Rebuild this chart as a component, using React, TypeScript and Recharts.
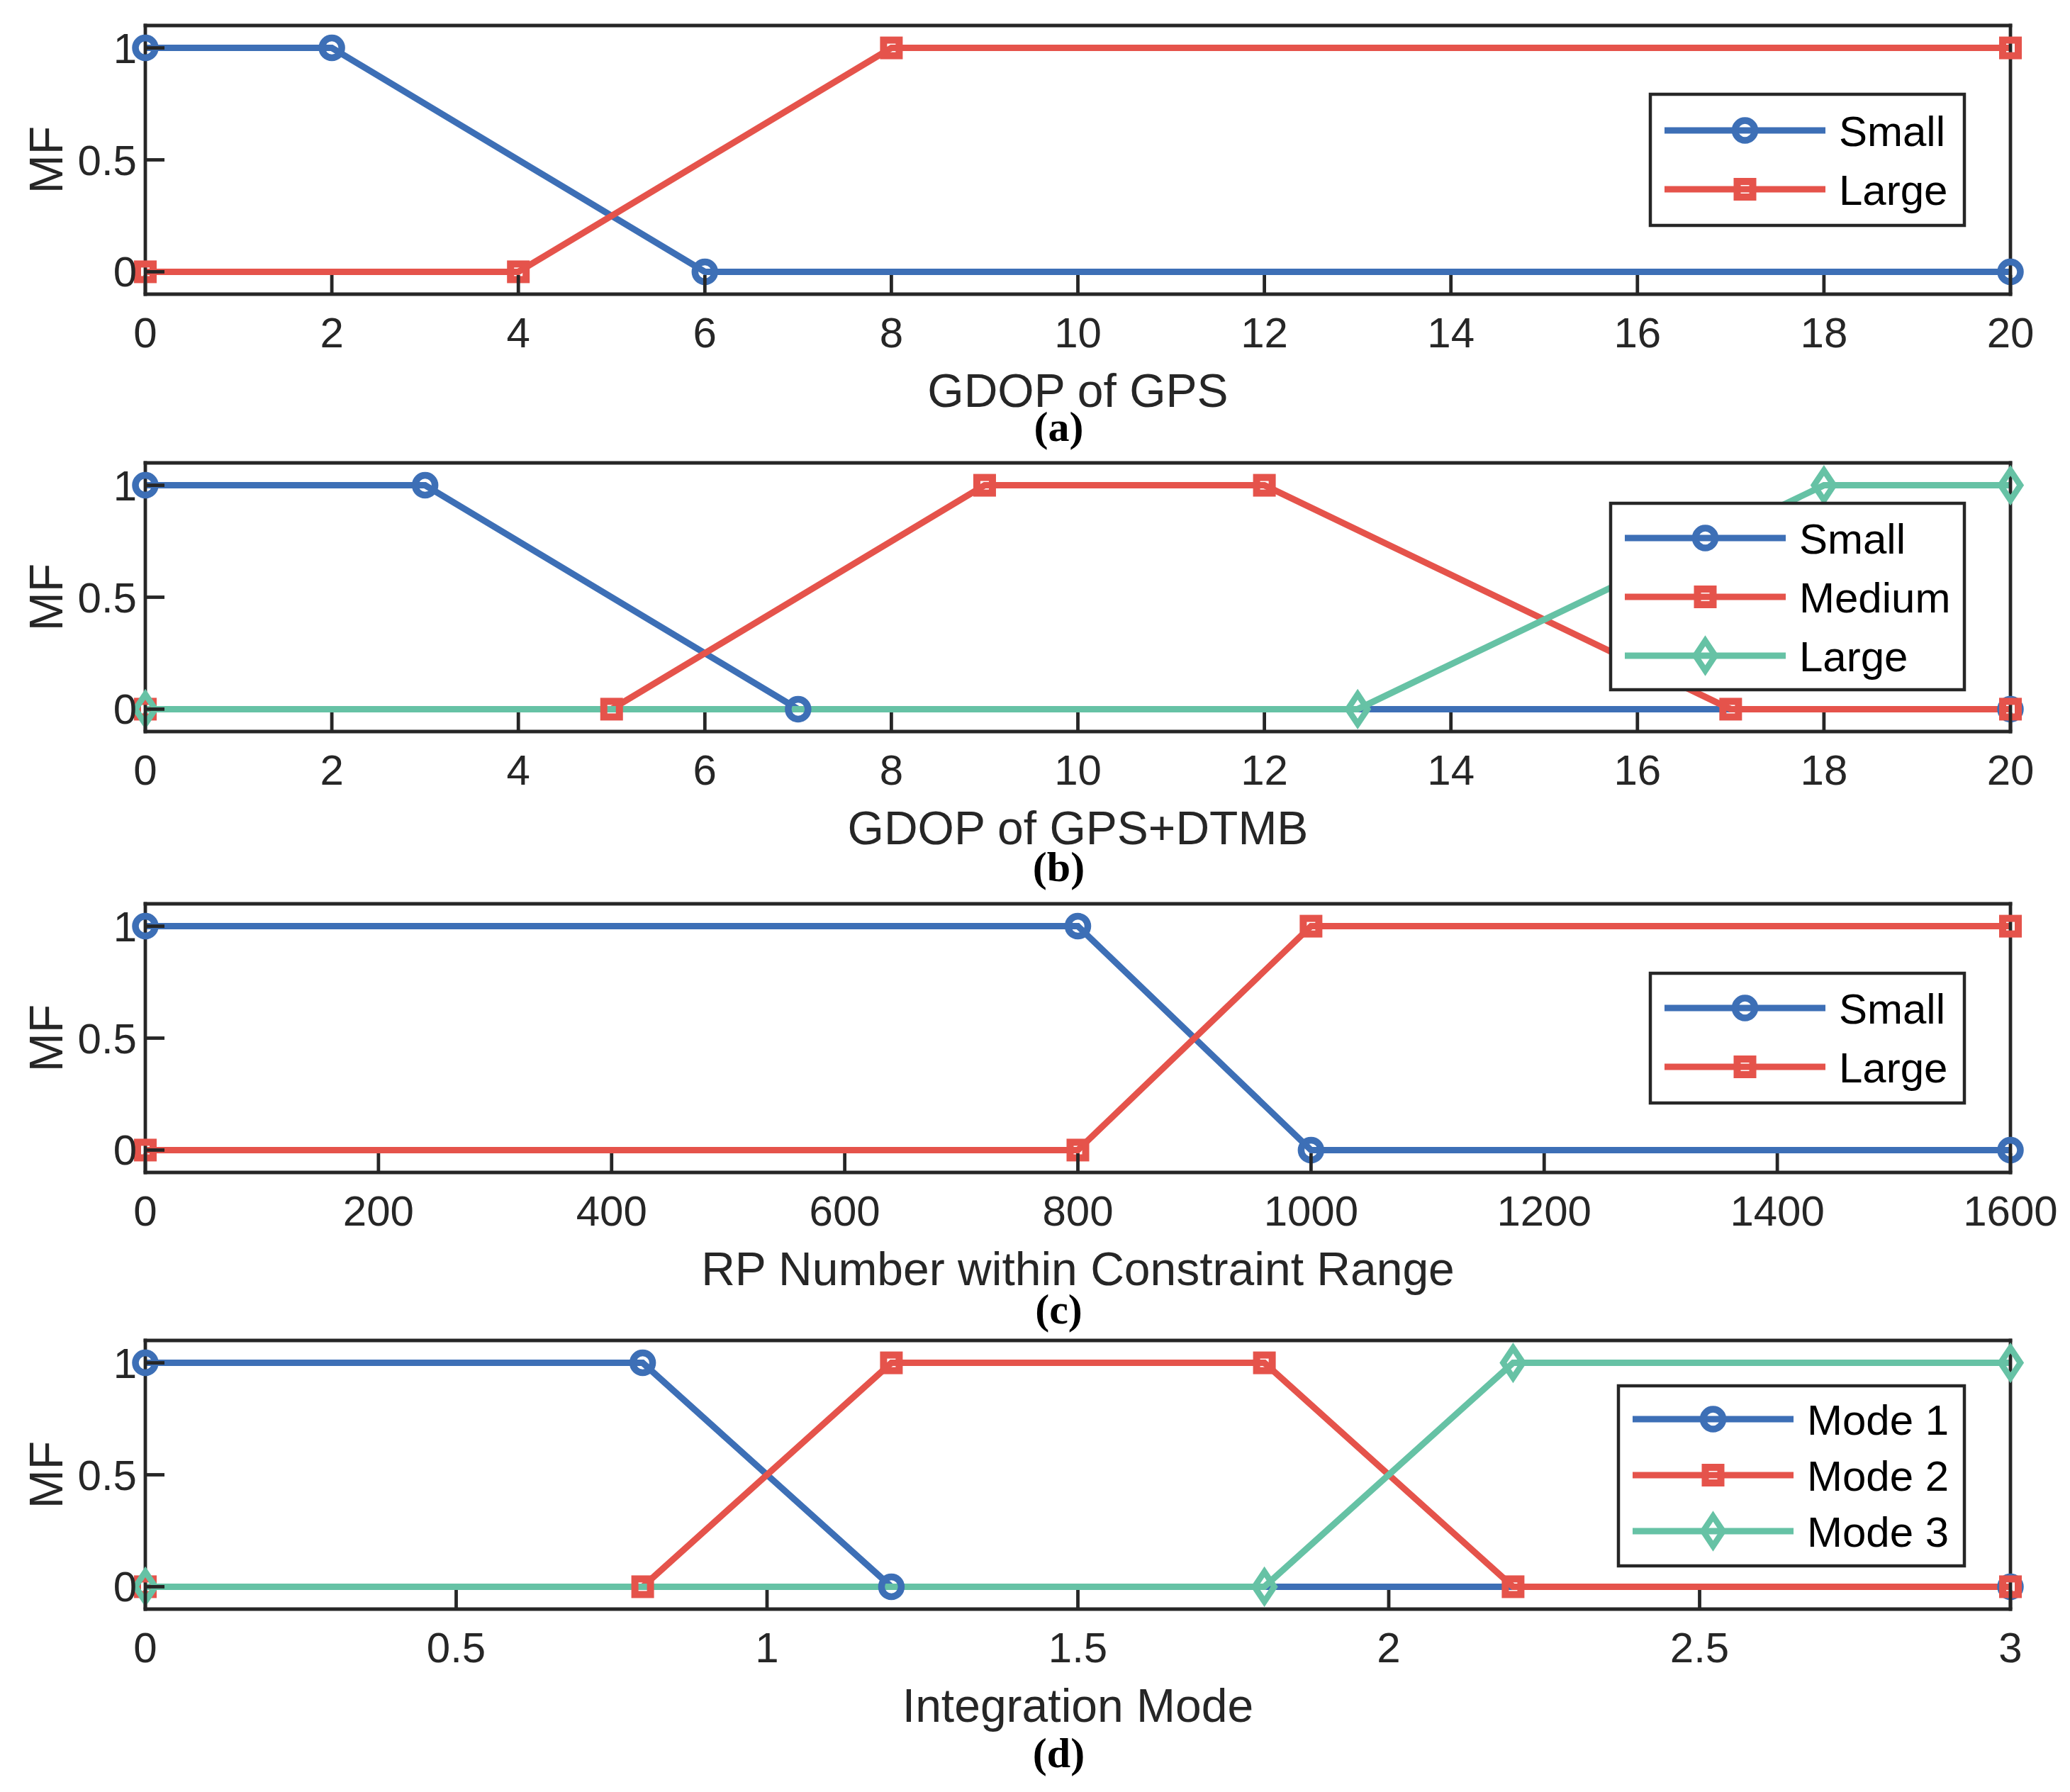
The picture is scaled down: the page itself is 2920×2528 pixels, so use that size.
import React from 'react';
import { LineChart, Line, XAxis, YAxis, Legend } from 'recharts';

type Pt = { x: number; y: number };

// ---------- data ----------
const aTicks = [0, 2, 4, 6, 8, 10, 12, 14, 16, 18, 20];
const aSmall: Pt[] = [{ x: 0, y: 1 }, { x: 2, y: 1 }, { x: 6, y: 0 }, { x: 20, y: 0 }];
const aLarge: Pt[] = [{ x: 0, y: 0 }, { x: 4, y: 0 }, { x: 8, y: 1 }, { x: 20, y: 1 }];

const bTicks = [0, 2, 4, 6, 8, 10, 12, 14, 16, 18, 20];
const bSmall: Pt[] = [{ x: 0, y: 1 }, { x: 3, y: 1 }, { x: 7, y: 0 }, { x: 20, y: 0 }];
const bMedium: Pt[] = [{ x: 0, y: 0 }, { x: 5, y: 0 }, { x: 9, y: 1 }, { x: 12, y: 1 }, { x: 17, y: 0 }, { x: 20, y: 0 }];
const bLarge: Pt[] = [{ x: 0, y: 0 }, { x: 13, y: 0 }, { x: 18, y: 1 }, { x: 20, y: 1 }];

const cTicks = [0, 200, 400, 600, 800, 1000, 1200, 1400, 1600];
const cSmall: Pt[] = [{ x: 0, y: 1 }, { x: 800, y: 1 }, { x: 1000, y: 0 }, { x: 1600, y: 0 }];
const cLarge: Pt[] = [{ x: 0, y: 0 }, { x: 800, y: 0 }, { x: 1000, y: 1 }, { x: 1600, y: 1 }];

const dTicks = [0, 0.5, 1, 1.5, 2, 2.5, 3];
const dMode1: Pt[] = [{ x: 0, y: 1 }, { x: 0.8, y: 1 }, { x: 1.2, y: 0 }, { x: 3, y: 0 }];
const dMode2: Pt[] = [{ x: 0, y: 0 }, { x: 0.8, y: 0 }, { x: 1.2, y: 1 }, { x: 1.8, y: 1 }, { x: 2.2, y: 0 }, { x: 3, y: 0 }];
const dMode3: Pt[] = [{ x: 0, y: 0 }, { x: 1.8, y: 0 }, { x: 2.2, y: 1 }, { x: 3, y: 1 }];

const yTicks = [0, 0.5, 1];
const yDomain: [number, number] = [-0.1, 1.1];

const titles = ['GDOP of GPS', 'GDOP of GPS+DTMB', 'RP Number within Constraint Range', 'Integration Mode'];
const tags = ['(a)', '(b)', '(c)', '(d)'];

// ---------- styles ----------
const BLUE = '#3D6FB6';
const RED = '#E5534B';
const GREEN = '#66C2A5';
const AX = '#262626';
const AXW = 4.8;
const TICK = 27;
const FONT = "'Liberation Sans', Arial, Helvetica, sans-serif";
const SERIF = "'Liberation Serif', 'Times New Roman', serif";

const W = 2920;
const ML = 205;
const MR = 84;
const MT = 36;
const PH = 379;
const MB = 245;
const CH = MT + PH + MB;
const PW = W - ML - MR;
const AS = 1; // axis size (thin, so axes still render)

type Kind = 'circle' | 'square' | 'diamond';
type Series = { name: string; data: Pt[]; color: string; kind: Kind };

type LegendCfg = { left: number; top: number; width: number; height: number; first: number; gap: number };

type Panel = {
  plotTop: number;
  ticks: number[];
  series: Series[];
  legend: LegendCfg;
  tagDy: number;
};

const panels: Panel[] = [
  {
    plotTop: 36,
    ticks: aTicks,
    series: [
      { name: 'Small', data: aSmall, color: BLUE, kind: 'circle' },
      { name: 'Large', data: aLarge, color: RED, kind: 'square' },
    ],
    legend: { left: 2326, top: 131, width: 447, height: 189, first: 53, gap: 83 },
    tagDy: 207,
  },
  {
    plotTop: 653,
    ticks: bTicks,
    series: [
      { name: 'Small', data: bSmall, color: BLUE, kind: 'circle' },
      { name: 'Medium', data: bMedium, color: RED, kind: 'square' },
      { name: 'Large', data: bLarge, color: GREEN, kind: 'diamond' },
    ],
    legend: { left: 2270, top: 708, width: 503, height: 267, first: 51, gap: 83 },
    tagDy: 211,
  },
  {
    plotTop: 1275,
    ticks: cTicks,
    series: [
      { name: 'Small', data: cSmall, color: BLUE, kind: 'circle' },
      { name: 'Large', data: cLarge, color: RED, kind: 'square' },
    ],
    legend: { left: 2326, top: 1371, width: 447, height: 187, first: 51, gap: 83 },
    tagDy: 213,
  },
  {
    plotTop: 1891,
    ticks: dTicks,
    series: [
      { name: 'Mode 1', data: dMode1, color: BLUE, kind: 'circle' },
      { name: 'Mode 2', data: dMode2, color: RED, kind: 'square' },
      { name: 'Mode 3', data: dMode3, color: GREEN, kind: 'diamond' },
    ],
    legend: { left: 2281, top: 1953, width: 492, height: 258, first: 49, gap: 79 },
    tagDy: 223,
  },
];

// ---------- marks ----------
function Marker({ cx, cy, kind, color }: { cx?: number; cy?: number; kind: Kind; color: string }) {
  if (cx == null || cy == null || isNaN(cx) || isNaN(cy)) return null;
  if (kind === 'circle') {
    return <circle cx={cx} cy={cy} r={14} fill="none" stroke={color} strokeWidth={9.5} />;
  }
  if (kind === 'square') {
    return <rect x={cx - 11} y={cy - 11} width={22} height={22} fill="none" stroke={color} strokeWidth={10} />;
  }
  return (
    <path
      d={`M${cx},${cy - 21} L${cx + 14},${cy} L${cx},${cy + 21} L${cx - 14},${cy} Z`}
      fill="none"
      stroke={color}
      strokeWidth={8.5}
      strokeLinejoin="miter"
      strokeMiterlimit={10}
    />
  );
}

const fmt = (v: number) => String(v);

const BottomTick = (p: any) => {
  const { x, y, payload } = p;
  return (
    <g>
      <line x1={x} x2={x} y1={y} y2={y - TICK} stroke={AX} strokeWidth={AXW} />
      <text x={x} y={y + 75} textAnchor="middle" fontSize={60} fontFamily={FONT} fill={AX}>
        {fmt(payload.value)}
      </text>
    </g>
  );
};

const TopTick = (p: any) => {
  const { x, y } = p;
  return <line x1={x} x2={x} y1={y} y2={y + TICK} stroke={AX} strokeWidth={AXW} />;
};

const LeftTick = (p: any) => {
  const { x, y, payload } = p;
  return (
    <g>
      <line x1={x} x2={x + TICK} y1={y} y2={y} stroke={AX} strokeWidth={AXW} />
      <text x={x - 12} y={y + 21} textAnchor="end" fontSize={60} fontFamily={FONT} fill={AX}>
        {fmt(payload.value)}
      </text>
    </g>
  );
};

const RightTick = (p: any) => {
  const { x, y } = p;
  return <line x1={x} x2={x - TICK} y1={y} y2={y} stroke={AX} strokeWidth={AXW} />;
};

function LegendBox({ cfg, series, payload }: { cfg: LegendCfg; series: Series[]; payload?: any[] }) {
  const names = payload && payload.length ? payload.map((it: any) => it.value) : series.map((s) => s.name);
  const ordered = series.filter((s) => names.includes(s.name));
  return (
    <svg width={cfg.width} height={cfg.height} style={{ display: 'block', overflow: 'visible' }}>
      <rect x={2} y={2} width={cfg.width - 4} height={cfg.height - 4} fill="#fff" stroke={AX} strokeWidth={4.5} />
      {ordered.map((s, i) => {
        const cy = cfg.first + i * cfg.gap;
        return (
          <g key={s.name}>
            <line x1={22} x2={249} y1={cy} y2={cy} stroke={s.color} strokeWidth={9} />
            <Marker cx={135.5} cy={cy} kind={s.kind} color={s.color} />
            <text x={268} y={cy + 22} fontSize={60} fontFamily={FONT} fill="#000">
              {s.name}
            </text>
          </g>
        );
      })}
    </svg>
  );
}

function PanelChart({ panel, idx }: { panel: Panel; idx: number }) {
  const chartTop = panel.plotTop - MT;
  const ticks = panel.ticks;
  const domain: [number, number] = [ticks[0], ticks[ticks.length - 1]];
  const plotBottom = MT + PH;
  const plotCx = ML + PW / 2;

  const xTitle = () => (
    <g>
      <text x={plotCx} y={plotBottom + 159} textAnchor="middle" fontSize={66} fontFamily={FONT} fill={AX}>
        {titles[idx]}
      </text>
      <text
        x={plotCx - 27}
        y={plotBottom + panel.tagDy}
        textAnchor="middle"
        fontSize={60}
        fontFamily={SERIF}
        fontWeight="bold"
        fill="#000"
      >
        {tags[idx]}
      </text>
    </g>
  );

  const yTitle = () => {
    const cy = MT + PH / 2;
    return (
      <text
        x={88}
        y={cy}
        transform={`rotate(-90, 88, ${cy})`}
        textAnchor="middle"
        fontSize={66}
        fontFamily={FONT}
        fill={AX}
      >
        MF
      </text>
    );
  };

  const lg = panel.legend;
  const axisLine = { stroke: AX, strokeWidth: AXW, strokeLinecap: 'square' as const };

  return (
    <div style={{ position: 'absolute', left: 0, top: chartTop, width: W, height: CH }}>
      <LineChart width={W} height={CH} margin={{ top: MT - AS, right: MR - AS, bottom: MB - AS, left: ML - AS }}>
        <XAxis
          xAxisId={0}
          dataKey="x"
          type="number"
          domain={domain}
          ticks={ticks}
          interval={0}
          height={AS}
          tickSize={0}
          tickMargin={0}
          tickLine={false}
          axisLine={axisLine}
          tick={BottomTick}
          label={{ content: xTitle }}
        />
        <XAxis
          xAxisId="top"
          orientation="top"
          dataKey="x"
          type="number"
          domain={domain}
          ticks={ticks}
          interval={0}
          height={AS}
          tickSize={0}
          tickMargin={0}
          tickLine={false}
          axisLine={axisLine}
          tick={TopTick}
        />
        <YAxis
          yAxisId={0}
          type="number"
          domain={yDomain}
          ticks={yTicks}
          interval={0}
          width={AS}
          tickSize={0}
          tickMargin={0}
          tickLine={false}
          axisLine={axisLine}
          tick={LeftTick}
          label={{ content: yTitle }}
        />
        <YAxis
          yAxisId="right"
          orientation="right"
          type="number"
          domain={yDomain}
          ticks={yTicks}
          interval={0}
          width={AS}
          tickSize={0}
          tickMargin={0}
          tickLine={false}
          axisLine={axisLine}
          tick={RightTick}
        />
        {panel.series.map((s) => (
          <Line
            key={s.name}
            xAxisId={0}
            yAxisId={0}
            data={s.data}
            dataKey="y"
            name={s.name}
            type="linear"
            stroke={s.color}
            strokeWidth={9}
            isAnimationActive={false}
            activeDot={false}
            dot={(dp: any) => (
              <Marker key={`${s.name}-${dp.index}`} cx={dp.cx} cy={dp.cy} kind={s.kind} color={s.color} />
            )}
          />
        ))}
        <Legend
          layout="vertical"
          align="center"
          verticalAlign="middle"
          wrapperStyle={{
            position: 'absolute',
            left: lg.left,
            top: lg.top - chartTop,
            width: lg.width,
            height: lg.height,
            margin: 0,
            padding: 0,
          }}
          content={(lp: any) => <LegendBox cfg={lg} series={panel.series} payload={lp && lp.payload} />}
        />
      </LineChart>
    </div>
  );
}

export default function App() {
  return (
    <div style={{ position: 'absolute', left: 0, top: 0, width: W, height: 2528, background: '#fff' }}>
      {panels.map((p, i) => (
        <PanelChart key={i} panel={p} idx={i} />
      ))}
    </div>
  );
}
